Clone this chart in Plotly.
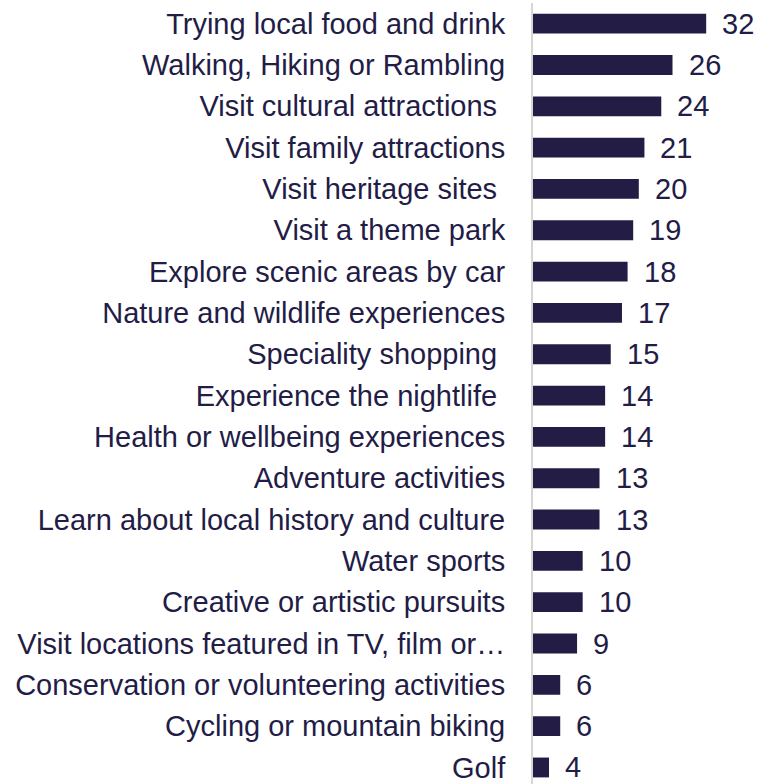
import plotly.graph_objects as go

categories = [
    "Trying local food and drink",
    "Walking, Hiking or Rambling",
    "Visit cultural attractions\u00a0",
    "Visit family attractions",
    "Visit heritage sites\u00a0",
    "Visit a theme park",
    "Explore scenic areas by car",
    "Nature and wildlife experiences",
    "Speciality shopping\u00a0",
    "Experience the nightlife\u00a0",
    "Health or wellbeing experiences",
    "Adventure activities",
    "Learn about local history and culture",
    "Water sports",
    "Creative or artistic pursuits",
    "Visit locations featured in TV, film or\u2026",
    "Conservation or volunteering activities",
    "Cycling or mountain biking",
    "Golf",
]
values = [32, 26, 24, 21, 20, 19, 18, 17, 15, 14, 14, 13, 13, 10, 10, 9, 6, 6, 4]

NAVY = "#231c45"
TEXT = "#221c46"
FONT = "Liberation Sans, Arial, sans-serif"

fig = go.Figure()
fig.add_trace(go.Bar(
    x=values,
    y=categories,
    orientation="h",
    marker=dict(color=NAVY, line=dict(width=0)),
    hoverinfo="skip",
))

for c, v in zip(categories, values):
    fig.add_annotation(
        x=v, y=c, xref="x", yref="y",
        text=str(v), showarrow=False,
        xanchor="left", yanchor="middle",
        xshift=14,
        font=dict(family=FONT, size=29, color=TEXT),
    )

fig.update_layout(
    width=759, height=784,
    margin=dict(l=533, r=0, t=3, b=0),
    paper_bgcolor="white",
    plot_bgcolor="white",
    showlegend=False,
    bargap=0.52,
    font=dict(family=FONT, size=29, color=TEXT),
)
fig.update_xaxes(
    range=[1.15, 41.41],
    showgrid=False, zeroline=False, showticklabels=False,
    showline=False, fixedrange=True,
)
fig.update_yaxes(
    type="category",
    categoryorder="array", categoryarray=categories,
    range=[18.4, -0.5],
    showgrid=False, zeroline=False,
    showline=True, linecolor="#d6d6d6", linewidth=2,
    ticks="", ticklabelstandoff=20,
    tickfont=dict(family=FONT, size=29, color=TEXT),
    fixedrange=True,
)

fig.write_html(
    "out.html",
    config={"displayModeBar": False},
    post_script="document.body.style.margin='0';document.body.style.overflow='hidden';",
)
